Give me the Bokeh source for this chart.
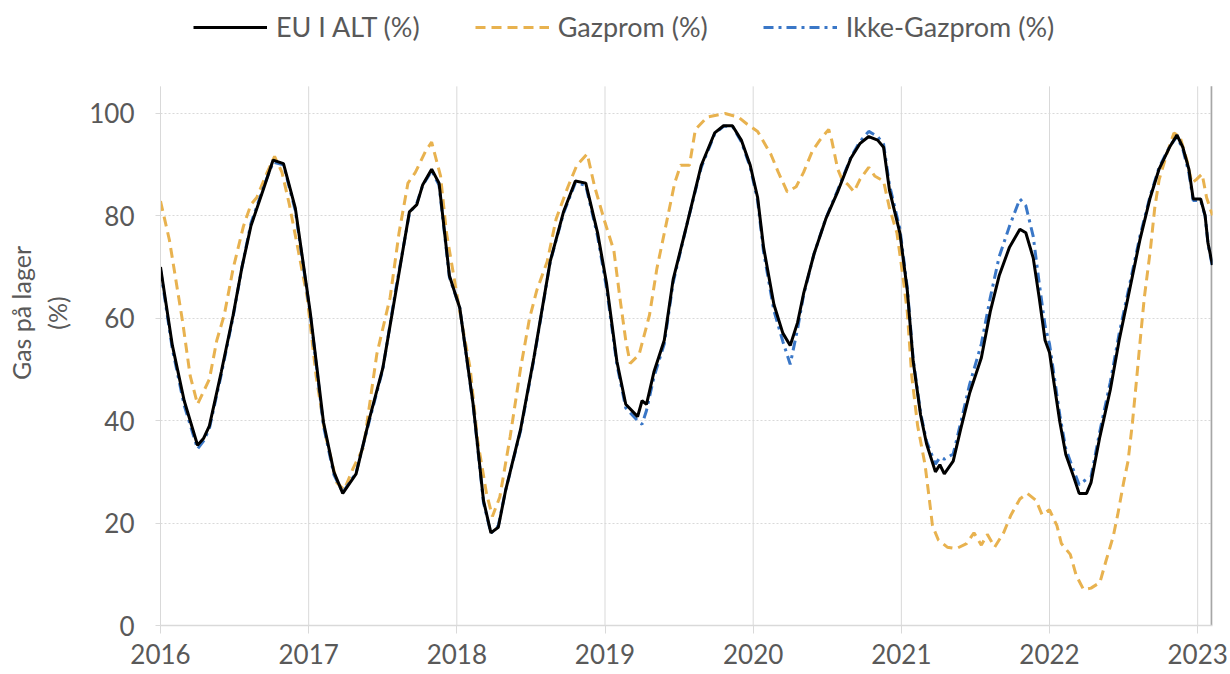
from bokeh.plotting import figure
from bokeh.models import Legend, LegendItem, FixedTicker, Range1d
from bokeh.embed import file_html
from bokeh.resources import INLINE

# ---------------- data ----------------
eu_x = [2016.00, 2016.08, 2016.16, 2016.25, 2016.29, 2016.33, 2016.41, 2016.49, 2016.55, 2016.61,
        2016.70, 2016.76, 2016.83, 2016.91, 2017.01, 2017.10, 2017.17, 2017.23, 2017.32, 2017.41,
        2017.50, 2017.59, 2017.68, 2017.73, 2017.77, 2017.83, 2017.88, 2017.95, 2018.02, 2018.11,
        2018.18, 2018.23, 2018.28, 2018.33, 2018.43, 2018.52, 2018.63, 2018.72, 2018.80, 2018.87,
        2018.95, 2019.01, 2019.08, 2019.14, 2019.22, 2019.25, 2019.28, 2019.33, 2019.40, 2019.46,
        2019.55, 2019.65, 2019.74, 2019.80, 2019.86, 2019.92, 2019.98, 2020.03, 2020.07, 2020.14,
        2020.20, 2020.25, 2020.30, 2020.34, 2020.41, 2020.49, 2020.57, 2020.66, 2020.72, 2020.78,
        2020.84, 2020.88, 2020.92, 2020.99, 2021.04, 2021.08, 2021.13, 2021.17, 2021.23, 2021.26,
        2021.29, 2021.35, 2021.40, 2021.46, 2021.54, 2021.60, 2021.66, 2021.73, 2021.80, 2021.84,
        2021.89, 2021.93, 2021.97, 2022.00, 2022.03, 2022.07, 2022.11, 2022.16, 2022.20, 2022.25,
        2022.28, 2022.34, 2022.41, 2022.47, 2022.54, 2022.61, 2022.68, 2022.74, 2022.81, 2022.86,
        2022.90, 2022.94, 2022.97, 2023.02, 2023.05, 2023.07, 2023.10]

eu_total = [70.0, 54.7, 43.9, 35.2, 36.5, 39.0, 49.5, 60.6, 70.0, 78.0,
            85.7, 90.9, 90.2, 81.5, 61.3, 39.7, 30.0, 25.8, 29.6, 40.4,
            50.2, 65.5, 80.8, 82.2, 86.1, 89.1, 86.4, 68.3, 62.0, 43.2,
            24.4, 18.1, 19.2, 26.5, 38.3, 52.3, 71.1, 80.8, 86.8, 86.4,
            76.7, 66.9, 51.6, 43.2, 40.8, 43.9, 43.2, 49.5, 55.7, 67.6,
            78.0, 89.9, 96.2, 97.6, 97.6, 94.8, 89.9, 83.6, 73.9, 62.7,
            57.1, 54.7, 59.2, 64.8, 72.5, 79.4, 84.7, 91.3, 94.1, 95.5,
            94.8, 93.4, 85.0, 76.7, 65.5, 51.6, 41.1, 35.5, 30.0, 31.4,
            29.6, 32.1, 38.3, 45.3, 52.3, 61.3, 68.3, 73.9, 77.4, 76.7,
            71.8, 64.1, 55.7, 53.3, 47.4, 39.7, 33.4, 29.3, 25.8, 25.8,
            27.9, 36.9, 46.0, 55.7, 65.5, 75.3, 83.6, 89.2, 93.4, 95.8,
            93.4, 89.2, 83.3, 83.3, 80.1, 74.6, 70.4]

ikke_gazprom = [69.5, 54.0, 43.0, 34.5, 36.0, 38.5, 49.0, 60.3, 70.0, 78.5,
                86.0, 90.5, 90.0, 81.0, 61.0, 39.0, 29.5, 26.0, 29.8, 40.0,
                50.0, 66.0, 80.5, 82.5, 86.0, 88.8, 86.0, 68.0, 62.0, 43.0,
                24.0, 18.0, 19.5, 26.5, 38.0, 52.0, 71.0, 80.5, 86.5, 86.0,
                76.0, 66.0, 51.0, 42.5, 40.0, 39.3, 42.0, 48.5, 55.0, 67.0,
                78.0, 89.5, 96.0, 97.5, 97.5, 94.5, 89.5, 83.0, 73.0, 61.5,
                55.5, 51.0, 58.0, 64.5, 72.5, 79.5, 85.0, 91.5, 94.5, 96.5,
                95.5, 94.0, 86.0, 77.5, 66.0, 52.0, 41.5, 36.0, 31.5, 32.8,
                32.5, 33.5, 39.5, 47.0, 55.0, 64.0, 72.0, 78.0, 83.3, 82.0,
                76.0, 67.0, 58.5, 55.0, 49.0, 41.0, 34.5, 30.5, 27.5, 28.6,
                29.0, 38.0, 47.5, 57.0, 66.5, 76.0, 84.0, 89.5, 93.5, 95.5,
                93.0, 88.5, 83.0, 83.0, 80.0, 74.5, 70.0]

gz_x = [2016.00, 2016.06, 2016.15, 2016.20, 2016.25, 2016.33, 2016.38, 2016.43, 2016.49, 2016.56,
        2016.61, 2016.65, 2016.72, 2016.77, 2016.82, 2016.87, 2016.93, 2016.99, 2017.05, 2017.11,
        2017.19, 2017.24, 2017.30, 2017.37, 2017.46, 2017.55, 2017.61, 2017.67, 2017.72, 2017.79,
        2017.83, 2017.89, 2017.93, 2018.02, 2018.09, 2018.14, 2018.20, 2018.24, 2018.29, 2018.36,
        2018.43, 2018.49, 2018.54, 2018.61, 2018.67, 2018.75, 2018.81, 2018.88, 2018.93, 2019.00,
        2019.06, 2019.10, 2019.14, 2019.17, 2019.23, 2019.30, 2019.35, 2019.41, 2019.47, 2019.51,
        2019.57, 2019.61, 2019.69, 2019.81, 2019.90, 2019.96, 2020.03, 2020.12, 2020.17, 2020.23,
        2020.29, 2020.34, 2020.40, 2020.45, 2020.51, 2020.53, 2020.57, 2020.60, 2020.64, 2020.68,
        2020.72, 2020.78, 2020.82, 2020.88, 2020.92, 2020.97, 2021.01, 2021.04, 2021.07, 2021.11,
        2021.16, 2021.19, 2021.21, 2021.25, 2021.31, 2021.37, 2021.44, 2021.49, 2021.54, 2021.58,
        2021.63, 2021.69, 2021.74, 2021.80, 2021.85, 2021.91, 2021.95, 2022.00, 2022.05, 2022.08,
        2022.14, 2022.18, 2022.23, 2022.28, 2022.34, 2022.38, 2022.43, 2022.46, 2022.50, 2022.53,
        2022.56, 2022.59, 2022.61, 2022.64, 2022.68, 2022.71, 2022.74, 2022.79, 2022.84, 2022.88,
        2022.93, 2022.96, 2022.99, 2023.03, 2023.06, 2023.10]

gazprom = [82.9, 75.3, 59.2, 48.8, 43.2, 48.1, 55.7, 60.6, 69.7, 78.0,
           82.2, 83.6, 88.5, 91.6, 88.5, 82.2, 73.2, 64.1, 48.8, 37.6,
           27.9, 26.5, 30.7, 34.8, 53.0, 64.1, 76.7, 86.4, 88.5, 92.7,
           94.4, 87.8, 76.7, 61.3, 50.2, 36.2, 25.8, 21.3, 25.1, 36.9,
           50.2, 59.9, 65.5, 71.1, 79.4, 85.7, 89.9, 92.1, 85.7, 78.7,
           73.2, 64.1, 55.7, 51.2, 52.9, 60.6, 69.7, 78.0, 86.4, 89.9,
           89.9, 96.9, 99.3, 100.0, 99.3, 97.9, 96.5, 92.0, 88.5, 84.7,
           85.7, 88.5, 92.7, 94.8, 96.9, 94.8, 89.2, 87.1, 86.1, 84.7,
           87.1, 89.5, 87.8, 86.8, 81.5, 76.7, 68.3, 61.3, 48.8, 39.0,
           31.4, 24.4, 19.5, 16.7, 15.3, 15.0, 16.0, 18.1, 15.7, 17.8,
           15.3, 18.1, 21.6, 24.7, 25.8, 24.4, 21.6, 22.6, 19.5, 16.0,
           13.9, 9.8, 7.0, 7.3, 8.4, 12.5, 17.4, 21.6, 27.9, 32.1,
           39.7, 48.8, 55.1, 64.1, 73.2, 81.5, 87.1, 92.0, 96.2, 95.5,
           90.6, 86.4, 87.1, 88.2, 83.6, 80.1]

year_ticks = [2016, 2017, 2018, 2019, 2020, 2021, 2022, 2023]
value_ticks = [0, 20, 40, 60, 80, 100]
labels = ["EU I ALT (%)", "Gazprom (%)", "Ikke-Gazprom (%)"]

# ---------------- layout constants ----------------
X_START, X_END = 2016.0, 2023.10
PLOT_TOP = 105.3          # top of the plotting area (value units)
Y_TOP = 122.07            # frame top, leaves room for the legend

FONT = "Lato"
GREY_TXT = "#595959"
GRID = "#d9d9d9"
BLACK = "#000000"
GOLD = "#E8B24F"
BLUE = "#3A77C7"

p = figure(width=1230, height=674, output_backend="svg", toolbar_location=None,
           x_range=Range1d(X_START, X_END), y_range=Range1d(0, Y_TOP),
           min_border_left=160, min_border_right=18, min_border_top=0, min_border_bottom=49)
p.outline_line_color = None
p.background_fill_color = "white"
p.xgrid.visible = False

# vertical year grid lines and right border, limited to the plotting area
p.segment(x0=year_ticks, y0=[0] * len(year_ticks), x1=year_ticks, y1=[PLOT_TOP] * len(year_ticks),
          line_color=GRID, line_width=1)
p.segment(x0=[X_END - 0.006], y0=[0], x1=[X_END - 0.006], y1=[PLOT_TOP],
          line_color="#a6a6a6", line_width=2)

r_gz = p.line(gz_x, gazprom, line_color=GOLD, line_width=3, line_dash="10 6")
r_ikke = p.line(eu_x, ikke_gazprom, line_color=BLUE, line_width=3, line_dash="10 5 3 5")
r_eu = p.line(eu_x, eu_total, line_color=BLACK, line_width=3)

# axes
p.xaxis.ticker = FixedTicker(ticks=year_ticks)
p.xaxis.minor_tick_line_color = None
p.xaxis.axis_line_color = GRID
p.xaxis.axis_line_width = 1.5
p.xaxis.major_tick_line_color = GRID
p.xaxis.major_tick_in = 0
p.xaxis.major_tick_out = 8
p.xaxis.major_label_standoff = 10
p.xaxis.major_label_text_font = FONT
p.xaxis.major_label_text_font_size = "26px"
p.xaxis.major_label_text_color = GREY_TXT

p.yaxis.ticker = FixedTicker(ticks=value_ticks)
p.yaxis.bounds = (0, PLOT_TOP)
p.yaxis.minor_tick_line_color = None
p.yaxis.axis_line_color = GRID
p.yaxis.major_tick_line_color = GRID
p.yaxis.major_tick_in = 0
p.yaxis.major_tick_out = 5
p.yaxis.major_label_standoff = 21
p.yaxis.major_label_text_font = FONT
p.yaxis.major_label_text_font_size = "26px"
p.yaxis.major_label_text_color = GREY_TXT
p.yaxis.axis_label = "Gas på lager\n(%)"
p.yaxis.axis_label_text_font = FONT
p.yaxis.axis_label_text_font_size = "25px"
p.yaxis.axis_label_text_font_style = "normal"
p.yaxis.axis_label_text_color = GREY_TXT
p.yaxis.axis_label_standoff = 14

p.ygrid.ticker = FixedTicker(ticks=value_ticks[1:])
p.ygrid.grid_line_color = GRID
p.ygrid.grid_line_dash = "2 2"
p.ygrid.grid_line_width = 1

legend = Legend(items=[LegendItem(label=labels[0], renderers=[r_eu]),
                       LegendItem(label=labels[1], renderers=[r_gz]),
                       LegendItem(label=labels[2], renderers=[r_ikke])],
                orientation="horizontal", location=(33, 582),
                glyph_width=74, glyph_height=20, label_standoff=9, spacing=55,
                padding=0, margin=0, border_line_color=None, background_fill_alpha=0,
                label_text_font=FONT, label_text_font_size="27px", label_text_color=GREY_TXT)
p.add_layout(legend, "center")

open("out.html", "w").write(file_html(p, INLINE))
